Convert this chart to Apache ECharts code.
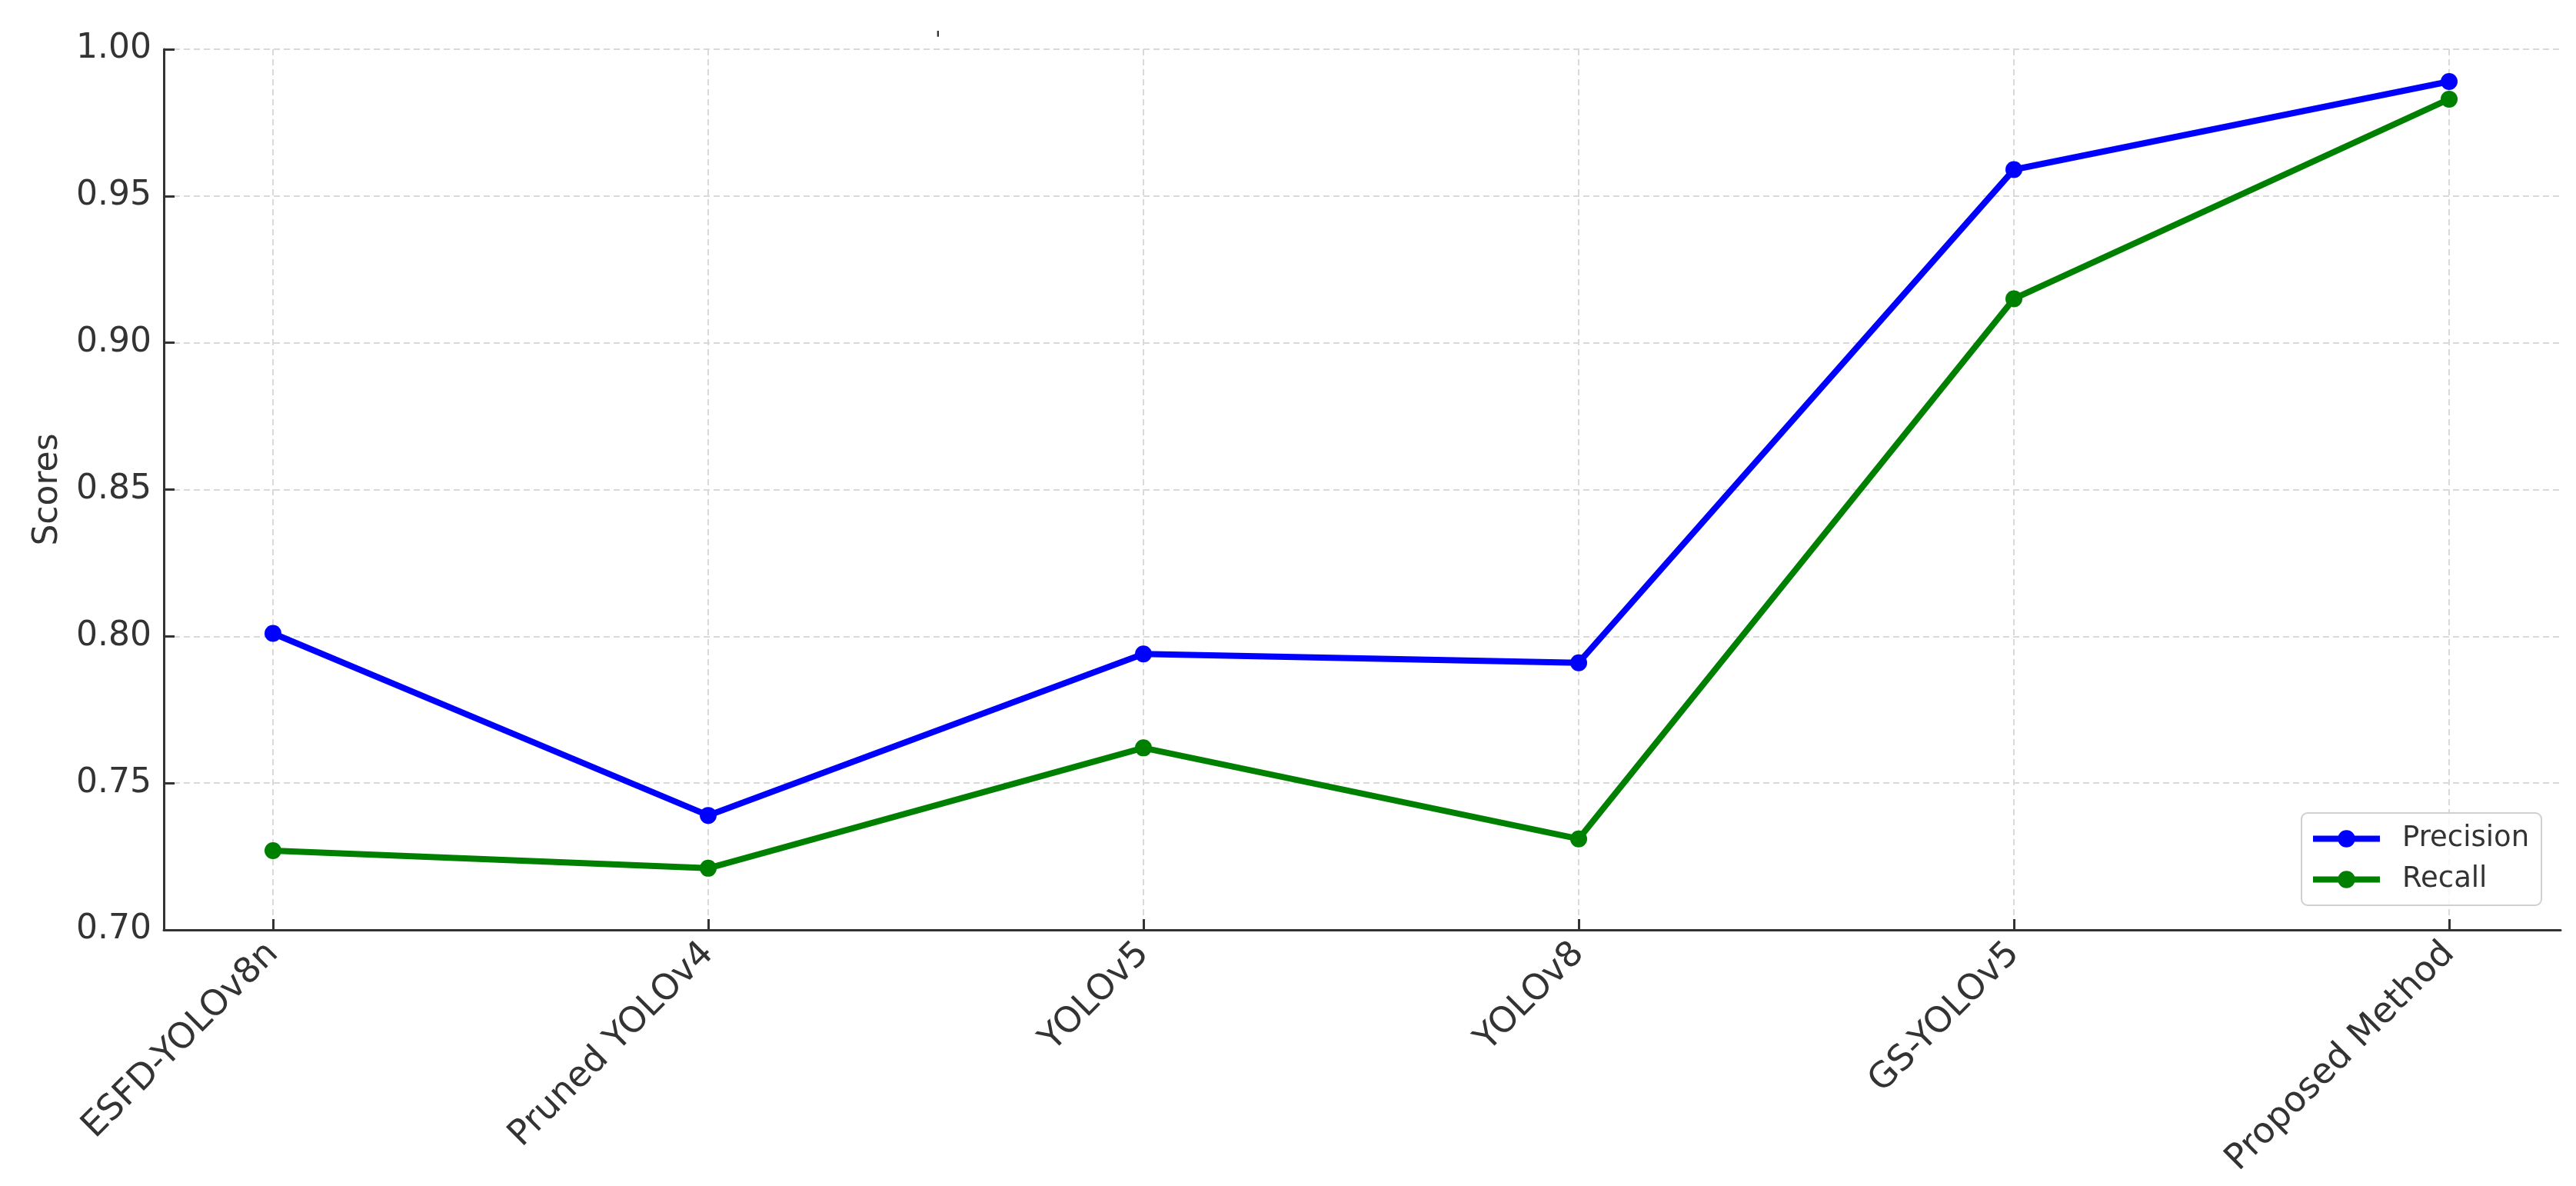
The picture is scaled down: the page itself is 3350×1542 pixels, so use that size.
<!DOCTYPE html>
<html>
<head>
<meta charset="utf-8">
<script src="https://cdn.jsdelivr.net/npm/echarts@6/dist/echarts.min.js"></script>
<style>
  html, body { margin: 0; padding: 0; background: #fff; }
  #chart { width: 3350px; height: 1542px; }
</style>
</head>
<body>
<div id="chart"></div>
<script>
const FONT = '"DejaVu Sans", Roboto, sans-serif';

// models on the x axis
const models = ["ESFD-YOLOv8n", "Pruned YOLOv4", "YOLOv5", "YOLOv8", "GS-YOLOv5", "Proposed Method"];
// scores
const precision = [0.801, 0.739, 0.794, 0.791, 0.959, 0.989];
const recall = [0.727, 0.721, 0.762, 0.731, 0.915, 0.983];

const yMin = 0.7, yMax = 1.0, yStep = 0.05;

const INK = "#333333";
const GRID = { color: "#d9d9d9", width: 2, type: [8, 5] };

const chart = echarts.init(document.getElementById("chart"), null, { renderer: "canvas" });

chart.setOption({
  backgroundColor: "#ffffff",
  animation: false,
  textStyle: { fontFamily: FONT },
  // stray mark above the plot in the original figure
  graphic: [{
    type: "text", left: 1216, top: 40,
    style: { text: "'", font: "28px " + FONT, fill: INK }
  }],
  grid: [
    // data area: first/last category sit inside the frame like matplotlib margins
    { left: 355, right: 165, top: 64, bottom: 333 },
    // frame: spines + horizontal grid lines
    { left: 213, right: 20, top: 64, bottom: 333 }
  ],
  legend: {
    orient: "vertical",
    left: 2993, top: 1057,
    padding: [15, 16, 15, 11],
    itemWidth: 87, itemHeight: 28, itemGap: 16,
    backgroundColor: "rgba(255,255,255,0.8)",
    borderColor: "#d0d0d0", borderWidth: 2, borderRadius: 8,
    lineStyle: { width: 8 },
    textStyle: { color: INK, fontSize: 37, fontFamily: FONT, padding: [0, 0, 0, 24] },
    data: ["Precision", "Recall"]
  },
  xAxis: [
    {
      type: "category", gridIndex: 0, data: models, boundaryGap: false,
      axisLine: { show: false },
      axisTick: { show: true, inside: true, length: 14, lineStyle: { color: INK, width: 3 } },
      axisLabel: { rotate: 45, fontSize: 46, color: INK, margin: 24, fontFamily: FONT },
      splitLine: { show: true, lineStyle: GRID }
    },
    {
      type: "value", gridIndex: 1, min: 0, max: 1,
      axisLine: { show: true, onZero: false, lineStyle: { color: INK, width: 3 } },
      axisTick: { show: false }, axisLabel: { show: false }, splitLine: { show: false }
    }
  ],
  yAxis: [
    { type: "value", gridIndex: 0, min: yMin, max: yMax, show: false, splitLine: { show: false } },
    {
      type: "value", gridIndex: 1, min: yMin, max: yMax, interval: yStep,
      name: "Scores", nameLocation: "middle", nameGap: 128,
      nameTextStyle: { fontSize: 44, color: INK, fontFamily: FONT },
      axisLine: { show: true, onZero: false, lineStyle: { color: INK, width: 3 } },
      axisTick: { show: true, inside: true, length: 14, lineStyle: { color: INK, width: 3 } },
      axisLabel: { fontSize: 44, color: INK, margin: 16, fontFamily: FONT, formatter: (v) => v.toFixed(2) },
      splitLine: { show: true, lineStyle: GRID }
    }
  ],
  series: [
    {
      name: "Precision", type: "line", xAxisIndex: 0, yAxisIndex: 0,
      data: precision, symbol: "circle", symbolSize: 22,
      lineStyle: { color: "#0000ff", width: 8 }, itemStyle: { color: "#0000ff" }, z: 3
    },
    {
      name: "Recall", type: "line", xAxisIndex: 0, yAxisIndex: 0,
      data: recall, symbol: "circle", symbolSize: 22,
      lineStyle: { color: "#008000", width: 8 }, itemStyle: { color: "#008000" }, z: 2
    }
  ]
});
</script>
</body>
</html>
